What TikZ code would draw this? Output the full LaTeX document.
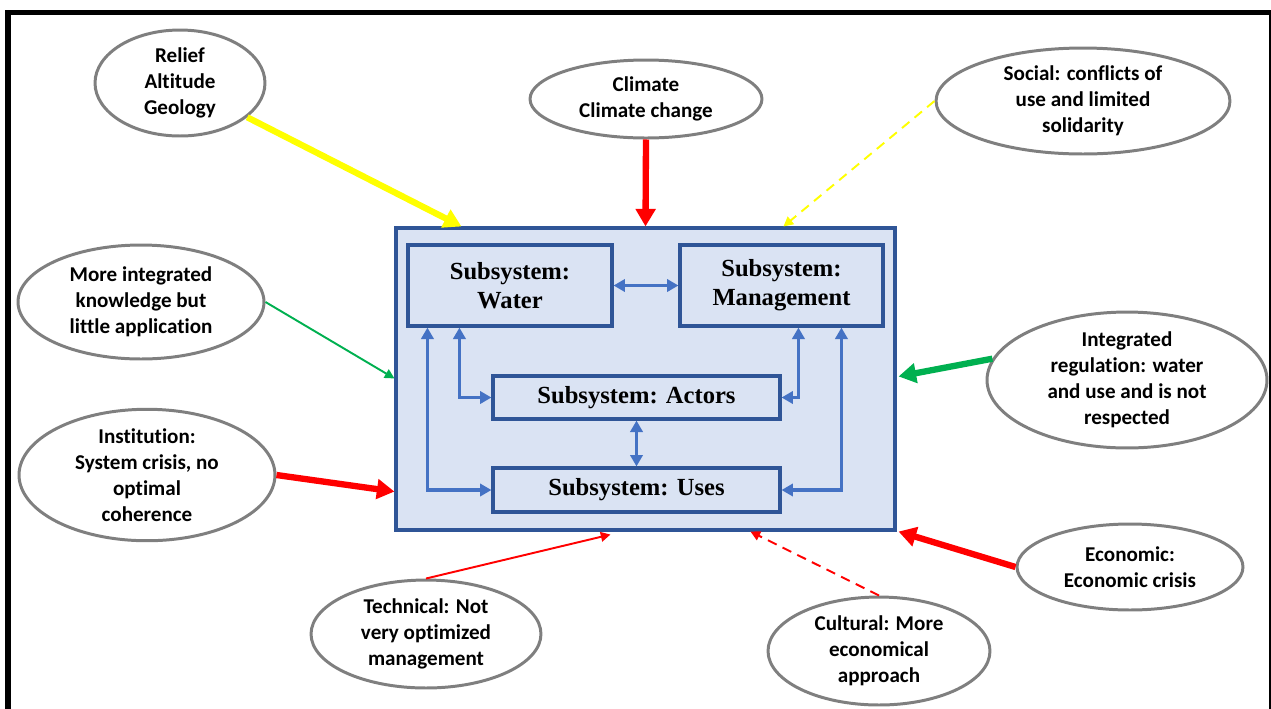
\documentclass[tikz,border=0pt]{standalone}
\usepackage{fontspec}
\setmainfont{Carlito}[Ligatures={NoCommon,NoContextual,NoRequired},Contextuals={NoAlternate}]
\newfontfamily\boxfont{Liberation Serif}
\usetikzlibrary{arrows.meta,shapes.geometric,calc}
\definecolor{boxfill}{HTML}{DAE3F3}
\definecolor{boxline}{HTML}{2F5597}
\definecolor{arrblue}{HTML}{4472C4}
\definecolor{ellgray}{HTML}{7F7F7F}
\definecolor{myyellow}{HTML}{FFFF00}
\definecolor{myred}{HTML}{FF0000}
\definecolor{mygreen}{HTML}{00B050}
\tikzset{
  ell/.style={ellipse, draw=ellgray, line width=1.7pt, inner sep=0pt, align=center,
    font=\bfseries\fontsize{12}{14.8}\selectfont},
  subbox/.style={draw=boxline, line width=1.8pt, fill=boxfill, inner sep=0pt, align=center,
    font=\boxfont\bfseries\fontsize{14}{16.5}\selectfont},
  thickarr/.style={line width=3.6pt, -{Triangle[length=10pt,width=11pt]}},
  thinarr/.style={line width=1.1pt, -{Triangle[length=5.5pt,width=5.5pt]}},
  bluearr/.style={draw=arrblue, line width=2pt, {Triangle[length=6.5pt,width=7pt]}-{Triangle[length=6.5pt,width=7pt]}},
  dashy/.style={dash pattern=on 5.5pt off 3.8pt}
}
\begin{document}
\begin{tikzpicture}[x=0.02cm,y=-0.02cm]
\useasboundingbox (0,0) rectangle (1271,708);
\clip (0,0) rectangle (1271,708);
\draw[line width=3.4pt] (8,12.5) rectangle (1272,740);

% main system box
\node[draw=boxline, line width=1.8pt, fill=boxfill, minimum width=9.98cm, minimum height=6.04cm, inner sep=0pt] (sys) at (645.5,379) {};
\node[subbox, minimum width=4.08cm, minimum height=1.62cm] (water) at (510,285.5) {Subsystem:\\Water};
\node[subbox, minimum width=4.06cm, minimum height=1.62cm] (mgmt) at (781.5,285.5) {Subsystem:\\Management};
\node[subbox, minimum width=5.74cm, minimum height=0.86cm] (actors) at (636.5,397.5) {Subsystem: Actors};
\node[subbox, minimum width=5.74cm, minimum height=0.88cm] (uses) at (636.5,490) {Subsystem: Uses};

% inner arrows
\draw[bluearr] (water.east) -- (mgmt.west);
\draw[bluearr] ($(water.south west)+(53,0)$) |- (actors.west);
\draw[bluearr] ($(water.south west)+(21,0)$) |- (uses.west);
\draw[bluearr] ($(mgmt.south west)+(120,0)$) |- (actors.east);
\draw[bluearr] ($(mgmt.south west)+(163,0)$) |- (uses.east);
\draw[bluearr] (actors.south) -- (uses.north);

% ellipses
\node[ell, minimum width=3.4cm, minimum height=2.12cm] (relief) at (180,83) {Relief\\Altitude\\Geology};
\node[ell, minimum width=4.64cm, minimum height=1.56cm] (climate) at (646,99) {Climate\\Climate change};
\node[ell, minimum width=5.88cm, minimum height=2.12cm] (social) at (1083,101) {Social: conflicts of\\use and limited\\solidarity};
\node[ell, minimum width=4.92cm, minimum height=2.28cm] (moreint) at (141,302) {More integrated\\knowledge but\\little application};
\node[ell, minimum width=5.6cm, minimum height=2.08cm] (intreg) at (1127,380) {Integrated\\regulation: water\\and use and is not\\respected};
\node[ell, minimum width=5.12cm, minimum height=2.4cm] (inst) at (147,475) {Institution:\\System crisis, no\\optimal\\coherence};
\node[ell, minimum width=4.6cm, minimum height=2.16cm] (tech) at (426,634) {Technical: Not\\very optimized\\management};
\node[ell, minimum width=4.52cm, minimum height=1.72cm] (econ) at (1130,567) {Economic:\\Economic crisis};
\node[ell, minimum width=4.44cm, minimum height=2.16cm] (cult) at (879,651) {Cultural: More\\economical\\approach};

% external connectors
\draw[thickarr, myyellow] (relief) -- ($(sys.north west)+(67,0)$);
\draw[thickarr, myred] (climate.south) -- (sys.north);
\draw[thinarr, myyellow, dashy] (social.west) -- ($(sys.north west)+(389,0)$);
\draw[thinarr, mygreen] (moreint.east) -- ($(sys.north west)+(0,152)$);
\draw[thickarr, mygreen] (intreg.171) -- ($(sys.north east)+(2,150)$);
\draw[thickarr, myred] (inst.east) -- ($(sys.south west)+(0,-40)$);
\draw[thinarr, myred] (tech.north) -- ($(sys.south west)+(216,3)$);
\draw[thinarr, myred, dashy] (cult.north) -- ($(sys.south west)+(356,0)$);
\draw[thickarr, myred] (econ.west) -- ($(sys.south east)+(2,0)$);
\end{tikzpicture}
\end{document}
